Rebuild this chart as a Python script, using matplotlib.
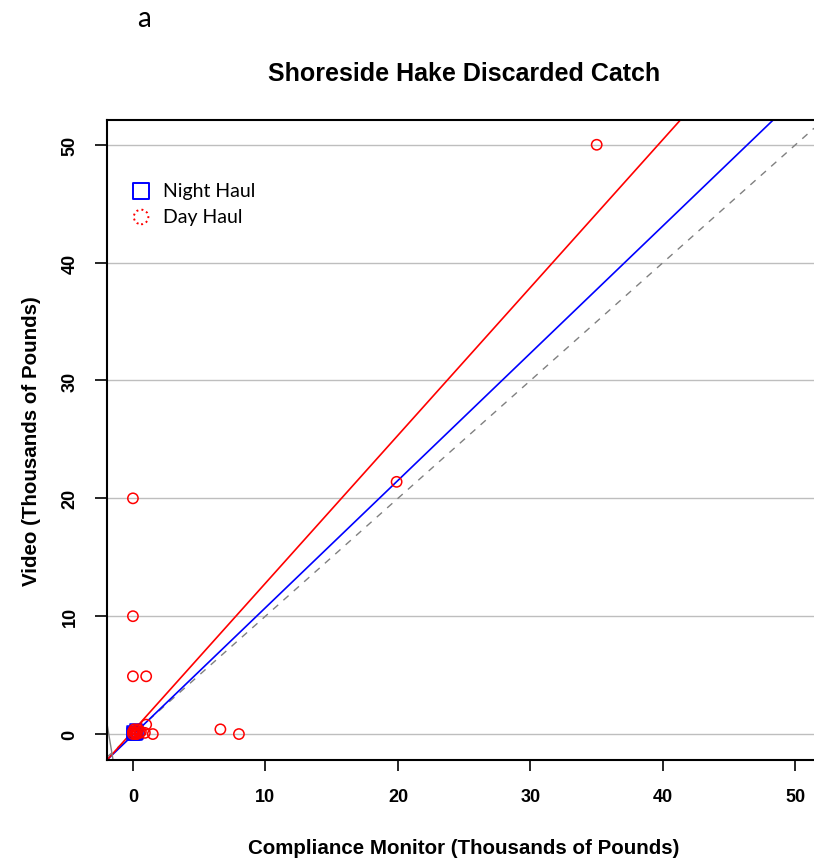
import numpy as np
import matplotlib
matplotlib.use("Agg")
import matplotlib.pyplot as plt

# Day haul (red circles): compliance monitor vs video, thousands of lbs
day_x = [35.0, 19.9, 0.0, 0.0, 0.0, 1.0, 6.6, 8.0, 1.0, 1.5, 0.9, 0.5, 0.3,
         0.1, 0.0, 0.2, 0.4, 0.1, 0.0, 0.3, 0.6, 0.2]
day_y = [50.0, 21.4, 20.0, 10.0, 4.9, 4.9, 0.4, 0.0, 0.8, 0.0, 0.1, 0.1, 0.3,
         0.2, 0.0, 0.0, 0.4, 0.4, 0.2, 0.0, 0.2, 0.1]

# Night haul (blue squares)
night_x = [0.0, 0.1, 0.2, 0.0, 0.3, 0.1, 0.2]
night_y = [0.0, 0.1, 0.3, 0.2, 0.1, 0.0, 0.0]

# fitted lines (intercept, slope)
day_fit = (0.25, 1.255)
night_fit = (-0.08, 1.08)

xlim = (-1.96, 51.4)
ylim = (-2.2, 52.1)
ticks = [0, 10, 20, 30, 40, 50]

ARIAL = "Liberation Sans"

fig = plt.figure(figsize=(8.14, 8.62), dpi=100)
ax = fig.add_axes([0.1314, 0.1172, 0.8686, 0.7424])

for t in ticks:
    ax.axhline(t, color="#bebebe", lw=1.0, zorder=0)

xx = np.array(xlim)
ax.plot(xx, xx, color="gray", ls=(0, (5, 5)), lw=1.0)
ax.plot(xx, night_fit[0] + night_fit[1] * xx, color="blue", lw=1.2)
ax.plot(xx, day_fit[0] + day_fit[1] * xx, color="red", lw=1.2)
ax.plot([-1.96, -1.5], [0.9, -2.2], color="gray", lw=1.0)

ax.scatter(night_x, night_y, marker="s", s=75, facecolors="none",
           edgecolors="blue", linewidths=1.1, zorder=3)
ax.scatter(day_x, day_y, marker="o", s=55, facecolors="none",
           edgecolors="red", linewidths=1.1, zorder=4)

ax.set_xlim(xlim)
ax.set_ylim(ylim)
ax.set_xticks(ticks)
ax.set_yticks(ticks)
ax.set_xticklabels([str(t) for t in ticks], family=ARIAL, fontweight="bold",
                   fontsize=13)
ax.set_yticklabels([str(t) for t in ticks], family=ARIAL, fontweight="bold",
                   fontsize=13, rotation=90, va="center")
ax.tick_params(axis="x", length=8, width=1.2, pad=12)
ax.tick_params(axis="y", length=8.5, width=1.2, pad=12)
ax.spines["right"].set_visible(False)
for s in ["left", "top", "bottom"]:
    ax.spines[s].set_linewidth(1.5)

fig.text(0.570, 1 - 849 / 862, "Compliance Monitor (Thousands of Pounds)",
         ha="center", va="center", fontsize=14.8, fontweight="bold",
         family=ARIAL)
fig.text(32 / 814, 1 - 441 / 862, "Video (Thousands of Pounds)",
         ha="center", va="center", rotation=90, fontsize=14.8,
         fontweight="bold", family=ARIAL)
fig.text(0.570, 1 - 74 / 862, "Shoreside Hake Discarded Catch", ha="center",
         va="center", fontsize=18, fontweight="bold", family=ARIAL)
fig.text(144 / 814, 1 - 19 / 862, "a", ha="center", va="center",
         fontsize=20, family="Lato")

ax.scatter([], [], marker="s", s=130, facecolors="none", edgecolors="blue",
           linewidths=1.4, label="Night Haul")
ax.scatter([], [], marker="o", s=110, facecolors="none", edgecolors="red",
           linewidths=1.4, linestyle=":", label="Day Haul")
handles, labels = ax.get_legend_handles_labels()
ax.legend(handles[-2:], labels[-2:], loc="upper left",
          bbox_to_anchor=(-0.004, 0.93), frameon=False,
          prop={"family": "Lato", "size": 14}, handletextpad=0.15,
          labelspacing=0.45)

plt.savefig("out.png", dpi=100)
